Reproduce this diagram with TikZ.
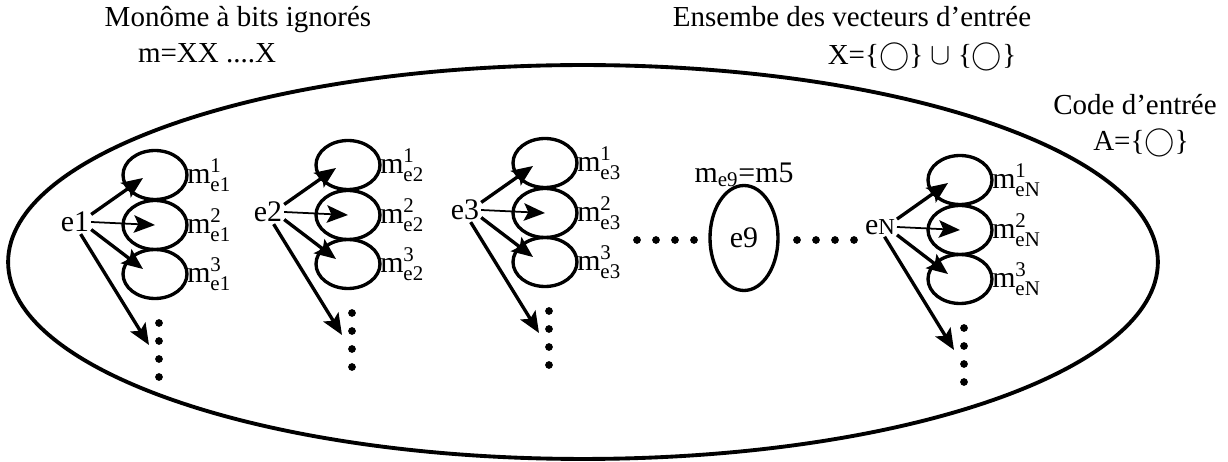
\documentclass[tikz,border=0pt]{standalone}
\usepackage{amsmath}
\usepackage{fontspec}
\setmainfont{Liberation Serif}
\usetikzlibrary{calc,arrows.meta,positioning,shapes.geometric}
\newcommand{\mlab}[2]{$\text{m}^{\text{#1}}_{\text{#2}}$}
\newcommand{\eN}{e{\fontsize{13}{13}\selectfont N}}

\begin{document}
\begin{tikzpicture}[x=0.02cm,y=-0.02cm,
  memb/.style={draw,ellipse,line width=1.9pt,minimum width=1.28cm,minimum height=0.98cm,inner sep=0pt},
  arr/.style={line width=1.9pt,-{Stealth[length=12pt,width=10pt,inset=2.5pt]}},
  lab/.style={font=\fontsize{17}{18}\selectfont,inner sep=1pt},
  ttl/.style={font=\fontsize{16.5}{17}\selectfont,inner sep=0pt}]
\useasboundingbox (0,0) rectangle (1228,462);
% ensemble des vecteurs
\draw[line width=2.2pt] (583,262) ellipse [x radius=11.5cm, y radius=3.94cm];
\node[ttl] (mono) at (238,20) {Monôme à bits ignorés};
\node[ttl] (mdef) at (207,53) {m=XX ....X};
\node[ttl] (ens) at (852,17) {Ensembe des vecteurs d'entrée};
\node[ttl] (xdef) at (922,57) {X=\{$\bigcirc$\} $\cup$ \{$\bigcirc$\}};
\node[ttl] (code) at (1135,105) {Code d'entrée};
\node[ttl] (adef) at (1141,143) {A=\{$\bigcirc$\}};
% groupes de monomes
\foreach \n/\t/\x/\y in {1/e1/155/175,2/e2/348/165,3/e3/545/163,N/\eN/960/180}{
  \node[memb] (m\n a) at (\x,\y) {};
  \node[memb] (m\n b) at (\x,\y+50) {};
  \node[memb] (m\n c) at (\x,\y+99) {};
  \node[lab,anchor=west] at ([xshift=-2pt]m\n a.east) {\mlab{1}{e\n}};
  \node[lab,anchor=west] at ([xshift=-2pt]m\n b.east) {\mlab{2}{e\n}};
  \node[lab,anchor=west] at ([xshift=-2pt]m\n c.east) {\mlab{3}{e\n}};
  \node[lab] (e\n) at (\x-80,\y+47) {\t};
  \foreach \k in {0,...,3} \fill (\x+4,\y+148+18*\k) circle (2.2pt);
  \coordinate (t\n) at (\x-6,\y+170);
  \draw[arr] (e\n.25) -- ($(m\n a.center)+(-12,3)$);
  \draw[arr,line width=1pt] (e\n.east) -- (m\n b.center);
  \draw[arr] (e\n.-25) -- ($(m\n c.center)+(-12,-5)$);
  \draw[arr] (e\n.-65) -- (t\n);
}
% monome e9
\node[memb,lab,minimum width=1.36cm,minimum height=2.1cm] (ell9) at (744,238) {e9};
\node[lab,above=-3pt of ell9] (me9) {$\text{m}_{\text{e9}}$=m5};
\foreach \xx in {637,656,675,694,797,816,835,854} \fill (\xx,240) circle (2.2pt);
\end{tikzpicture}
\end{document}
